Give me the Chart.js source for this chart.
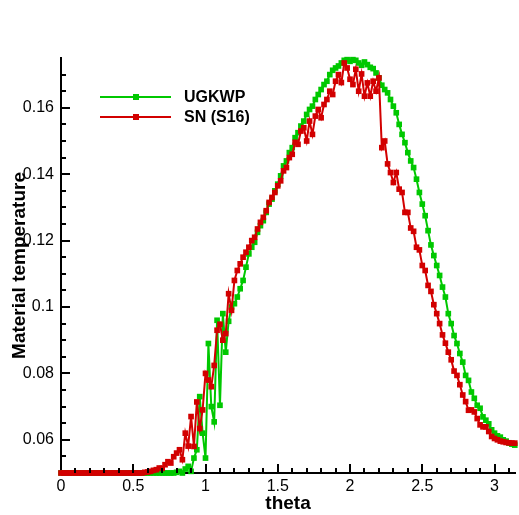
<!DOCTYPE html>
<html>
<head>
<meta charset="utf-8">
<title>Material temperature</title>
<script src="https://cdn.jsdelivr.net/npm/chart.js@4.4.0/dist/chart.umd.min.js"></script>
<style>
    html, body { margin: 0; padding: 0; background: #fff; }
</style>
</head>
<body>
<canvas id="myChart" width="519" height="515"></canvas>
<script>
// theta (abscisse commune aux deux courbes)
const thetas = [
    0.00, 0.02, 0.04, 0.06, 0.08, 0.10, 0.12, 0.14, 0.16, 0.18,
    0.20, 0.22, 0.24, 0.26, 0.28, 0.30, 0.32, 0.34, 0.36, 0.38,
    0.40, 0.42, 0.44, 0.46, 0.48, 0.50, 0.52, 0.54, 0.56, 0.58,
    0.60, 0.62, 0.64, 0.66, 0.68, 0.70, 0.72, 0.74, 0.76, 0.78,
    0.80, 0.82, 0.84, 0.86, 0.88, 0.90, 0.92, 0.94, 0.96, 0.98,
    1.00, 1.02, 1.04, 1.06, 1.08, 1.10, 1.12, 1.14, 1.16, 1.18,
    1.20, 1.22, 1.24, 1.26, 1.28, 1.30, 1.32, 1.34, 1.36, 1.38,
    1.40, 1.42, 1.44, 1.46, 1.48, 1.50, 1.52, 1.54, 1.56, 1.58,
    1.60, 1.62, 1.64, 1.66, 1.68, 1.70, 1.72, 1.74, 1.76, 1.78,
    1.80, 1.82, 1.84, 1.86, 1.88, 1.90, 1.92, 1.94, 1.96, 1.98,
    2.00, 2.02, 2.04, 2.06, 2.08, 2.10, 2.12, 2.14, 2.16, 2.18,
    2.20, 2.22, 2.24, 2.26, 2.28, 2.30, 2.32, 2.34, 2.36, 2.38,
    2.40, 2.42, 2.44, 2.46, 2.48, 2.50, 2.52, 2.54, 2.56, 2.58,
    2.60, 2.62, 2.64, 2.66, 2.68, 2.70, 2.72, 2.74, 2.76, 2.78,
    2.80, 2.82, 2.84, 2.86, 2.88, 2.90, 2.92, 2.94, 2.96, 2.98,
    3.00, 3.02, 3.04, 3.06, 3.08, 3.10, 3.12, 3.14
];

// UGKWP
const ugkwp = [
    0.0500, 0.0500, 0.0500, 0.0500, 0.0500, 0.0500, 0.0500, 0.0500, 0.0500, 0.0500,
    0.0500, 0.0500, 0.0500, 0.0500, 0.0500, 0.0500, 0.0500, 0.0500, 0.0500, 0.0500,
    0.0500, 0.0500, 0.0500, 0.0500, 0.0500, 0.0500, 0.0500, 0.0500, 0.0500, 0.0500,
    0.0500, 0.0500, 0.0500, 0.0500, 0.0500, 0.0500, 0.0500, 0.0500, 0.0500, 0.0500,
    0.0502, 0.0505, 0.0500, 0.0512, 0.0520, 0.0505, 0.0545, 0.0570, 0.0730, 0.0620,
    0.0545, 0.0890, 0.0700, 0.0654, 0.0960, 0.0704, 0.0980, 0.0864, 0.0957, 0.1000,
    0.1010, 0.1030, 0.1055, 0.1080, 0.1120, 0.1160, 0.1180, 0.1195, 0.1225, 0.1245,
    0.1260, 0.1285, 0.1310, 0.1325, 0.1350, 0.1370, 0.1395, 0.1425, 0.1440, 0.1465,
    0.1480, 0.1510, 0.1525, 0.1545, 0.1560, 0.1580, 0.1595, 0.1605, 0.1625, 0.1640,
    0.1655, 0.1670, 0.1680, 0.1700, 0.1713, 0.1720, 0.1726, 0.1735, 0.1743, 0.1745,
    0.1740, 0.1745, 0.1743, 0.1735, 0.1728, 0.1738, 0.1730, 0.1722, 0.1718, 0.1705,
    0.1690, 0.1668, 0.1655, 0.1645, 0.1625, 0.1605, 0.1585, 0.1550, 0.1520, 0.1495,
    0.1465, 0.1440, 0.1420, 0.1385, 0.1345, 0.1310, 0.1275, 0.1230, 0.1187, 0.1155,
    0.1125, 0.1095, 0.1060, 0.1030, 0.0980, 0.0950, 0.0914, 0.0890, 0.0860, 0.0834,
    0.0794, 0.0779, 0.0744, 0.0725, 0.0704, 0.0695, 0.0669, 0.0659, 0.0648, 0.0630,
    0.0620, 0.0612, 0.0608, 0.0600, 0.0596, 0.0590, 0.0587, 0.0584
];

// SN (S16)
const sn = [
    0.0500, 0.0500, 0.0500, 0.0500, 0.0500, 0.0500, 0.0500, 0.0500, 0.0500, 0.0500,
    0.0500, 0.0500, 0.0500, 0.0500, 0.0500, 0.0500, 0.0500, 0.0500, 0.0500, 0.0500,
    0.0500, 0.0500, 0.0500, 0.0500, 0.0500, 0.0500, 0.0500, 0.0500, 0.0500, 0.0502,
    0.0503, 0.0505, 0.0508, 0.0510, 0.0515, 0.0514, 0.0525, 0.0534, 0.0530, 0.0549,
    0.0560, 0.0570, 0.0540, 0.0620, 0.0581, 0.0670, 0.0580, 0.0714, 0.0634, 0.0690,
    0.0800, 0.0780, 0.0760, 0.0824, 0.0930, 0.0948, 0.0900, 0.0920, 0.1040, 0.0990,
    0.1080, 0.1110, 0.1130, 0.1150, 0.1165, 0.1180, 0.1200, 0.1210, 0.1235, 0.1255,
    0.1270, 0.1290, 0.1315, 0.1330, 0.1345, 0.1365, 0.1380, 0.1410, 0.1420, 0.1450,
    0.1460, 0.1496, 0.1490, 0.1530, 0.1540, 0.1500, 0.1560, 0.1520, 0.1575, 0.1595,
    0.1570, 0.1610, 0.1625, 0.1650, 0.1640, 0.1680, 0.1700, 0.1676, 0.1735, 0.1720,
    0.1686, 0.1670, 0.1716, 0.1650, 0.1702, 0.1635, 0.1675, 0.1635, 0.1680, 0.1650,
    0.1690, 0.1480, 0.1500, 0.1431, 0.1405, 0.1375, 0.1405, 0.1355, 0.1345, 0.1285,
    0.1285, 0.1238, 0.1228, 0.1180, 0.1172, 0.1125, 0.1110, 0.1065, 0.1047, 0.1007,
    0.0980, 0.0950, 0.0916, 0.0891, 0.0864, 0.0841, 0.0807, 0.0794, 0.0766, 0.0735,
    0.0715, 0.0689, 0.0690, 0.0684, 0.0664, 0.0645, 0.0639, 0.0639, 0.0625, 0.0610,
    0.0604, 0.0600, 0.0596, 0.0594, 0.0592, 0.0591, 0.0590, 0.0590
];

const xTicks = [0, 0.5, 1, 1.5, 2, 2.5, 3];
const yTicks = [0.06, 0.08, 0.1, 0.12, 0.14, 0.16];

const vert = 'rgb(0, 200, 0)';
const rouge = 'rgb(210, 0, 0)';
const police = "'Liberation Sans', Arial, sans-serif";

// Traits de graduation vers l'intérieur + légende dans le cadre
const decorations = {
    id: 'decorations',
    afterDraw(chart) {
        const { ctx, chartArea, scales: { x, y } } = chart;
        ctx.save();
        ctx.globalAlpha = 1;
        ctx.fillStyle = '#000';

        // axe x : mineur tous les 0.1, majeur tous les 0.5
        for (let i = 1; i <= 31; i++) {
            const px = Math.round(x.getPixelForValue(i * 0.1));
            const major = i % 5 === 0;
            const len = major ? 9 : 5;
            ctx.fillRect(px - 1, chartArea.bottom - len, 2, len);
        }
        // axe y : mineur tous les 0.005, majeur tous les 0.02
        for (let k = 11; k <= 34; k++) {
            const py = Math.round(y.getPixelForValue(k * 0.005));
            const major = k % 4 === 0;
            const len = major ? 9 : 5;
            ctx.fillRect(chartArea.left, py - 1, len, 2);
        }

        // légende
        const entrees = [chart.data.datasets[1], chart.data.datasets[0]];
        entrees.forEach((ds, i) => {
            const ly = 97 + i * 20;
            ctx.fillStyle = ds.borderColor;
            ctx.fillRect(100, ly - 1, 71, 2);
            ctx.fillRect(133, ly - 3, 6, 6);
            ctx.fillStyle = '#000';
            ctx.font = "bold 16px " + police;
            ctx.textBaseline = 'middle';
            ctx.fillText(ds.label, 184, ly + 1);
        });
        ctx.restore();
    }
};

function serie(valeurs) {
    return thetas.map((t, i) => ({ x: t, y: valeurs[i] }));
}

const ctx = document.getElementById("myChart").getContext("2d");
const chart = new Chart(ctx, {
    type: 'line',
    data: {
        datasets: [
            {
                label: 'SN (S16)',
                data: serie(sn),
                borderColor: rouge,
                backgroundColor: rouge,
                borderWidth: 2,
                pointStyle: 'rect',
                pointRadius: 4,
                pointBorderWidth: 0,
                clip: 5,
                order: 0
            },
            {
                label: 'UGKWP',
                data: serie(ugkwp),
                borderColor: vert,
                backgroundColor: vert,
                borderWidth: 2,
                pointStyle: 'rect',
                pointRadius: 4,
                pointBorderWidth: 0,
                clip: 5,
                order: 1
            }
        ]
    },
    options: {
        responsive: false,
        animation: false,
        devicePixelRatio: 1,
        layout: { padding: { top: 58, right: 2, left: 0, bottom: 0 } },
        plugins: {
            legend: { display: false },
            tooltip: { enabled: false }
        },
        scales: {
            x: {
                type: 'linear',
                min: 0,
                max: Math.PI,
                afterFit: s => { s.height = 42; },
                afterBuildTicks: s => { s.ticks = xTicks.map(v => ({ value: v })); },
                grid: { display: false, drawTicks: false },
                border: { display: true, color: '#000', width: 2 },
                ticks: {
                    padding: 4,
                    color: '#000',
                    font: { family: police, size: 16 },
                    maxRotation: 0,
                    callback: v => String(v)
                },
                title: {
                    display: true,
                    text: 'theta',
                    color: '#000',
                    font: { family: police, size: 19, weight: 'bold' },
                    padding: { top: 0, bottom: 0 }
                }
            },
            y: {
                type: 'linear',
                min: 0.05,
                max: 0.175,
                afterFit: s => { s.width = 61; },
                afterBuildTicks: s => { s.ticks = yTicks.map(v => ({ value: v })); },
                grid: { display: false, drawTicks: false },
                border: { display: true, color: '#000', width: 2 },
                ticks: {
                    padding: 7,
                    color: '#000',
                    font: { family: police, size: 16 },
                    callback: v => String(+v.toFixed(3))
                },
                title: {
                    display: true,
                    text: 'Material temperature',
                    color: '#000',
                    font: { family: police, size: 19, weight: 'bold' },
                    padding: { top: 8, bottom: 0 }
                }
            }
        }
    },
    plugins: [decorations]
});
</script>
</body>
</html>
